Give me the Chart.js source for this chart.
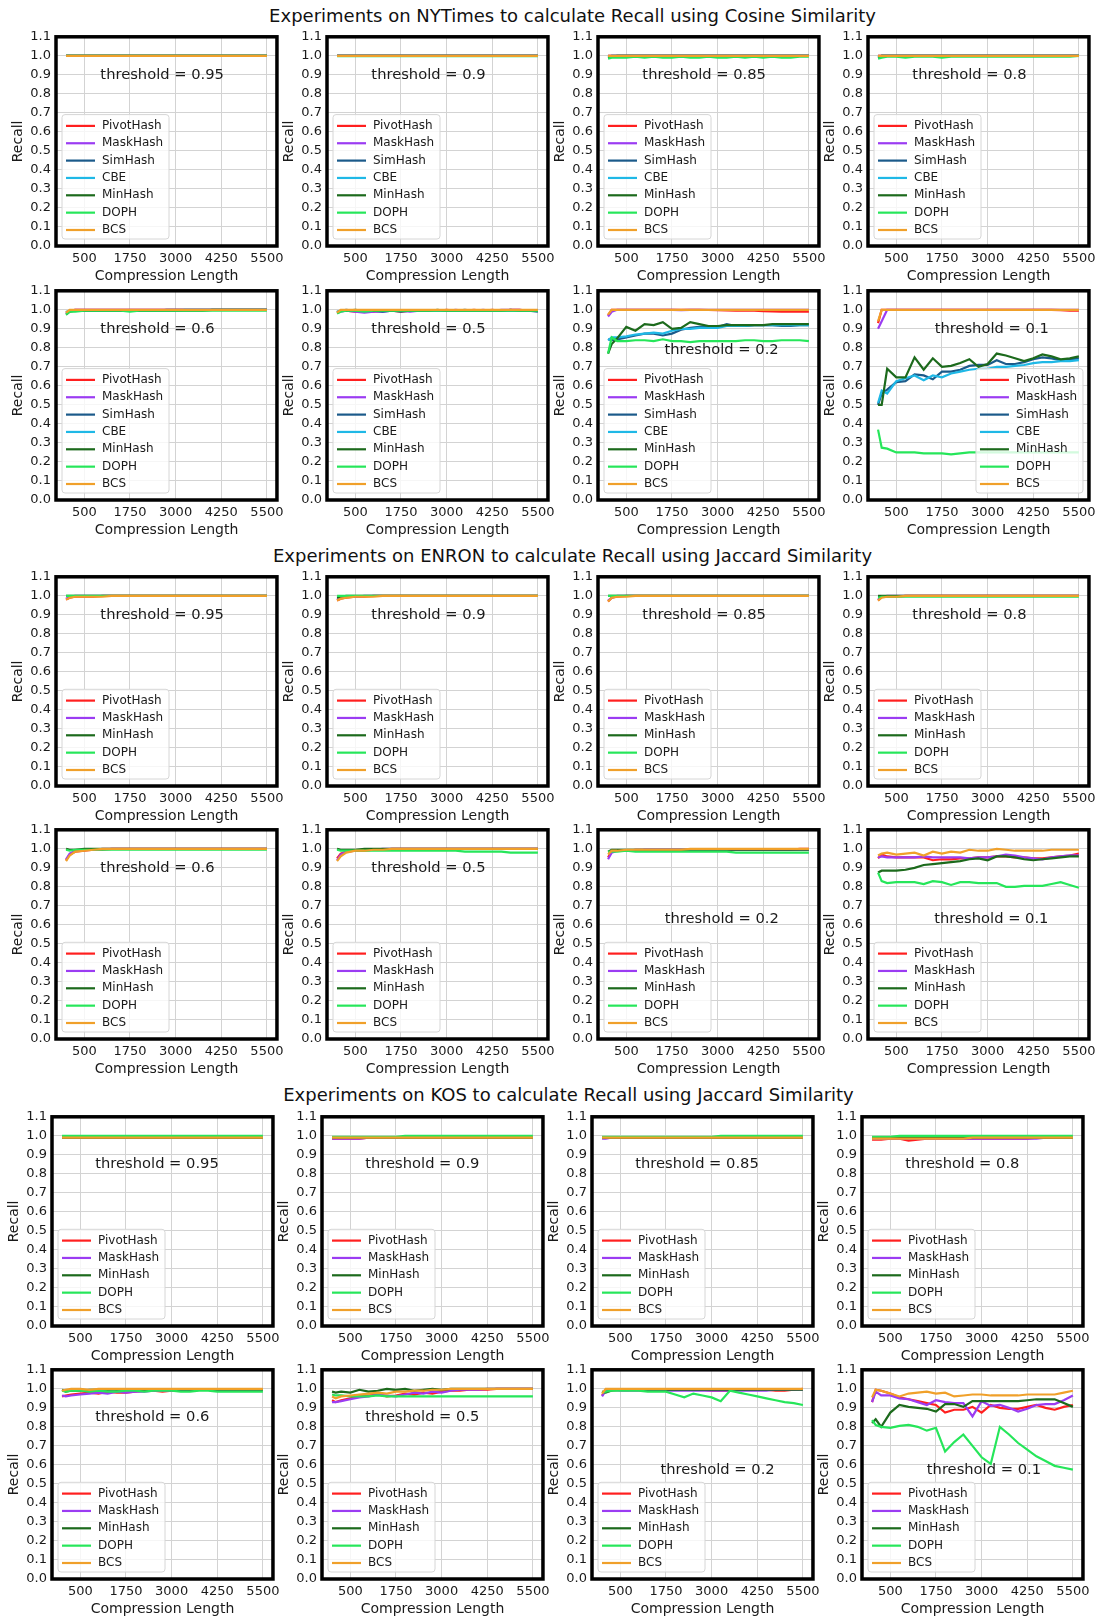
<!DOCTYPE html>
<html>
<head>
<meta charset="utf-8">
<script src="https://cdn.jsdelivr.net/npm/chart.js@4.4.0/dist/chart.umd.min.js"></script>
<style>
  html, body { margin: 0; padding: 0; background: #fff; }
  #fig { position: relative; width: 1099px; height: 1616px; overflow: hidden; font-family: 'DejaVu Sans', sans-serif; }
  #fig canvas { position: absolute; }
  .suptitle { position: absolute; font-size: 18px; color: #111; white-space: nowrap; transform: translate(-50%, -50%); }
</style>
</head>
<body>
<div id="fig"></div>
<script>
// compression lengths shared by every run
const compLengths = [0, 100, 250, 500, 750, 1000, 1250, 1500, 1750, 2000, 2250, 2500, 2750, 3000, 3250, 3500, 3750, 4000, 4250, 4500, 4750, 5000, 5250, 5500];
const xTicks = [500, 1750, 3000, 4250, 5500];
const yTicks = [0.0, 0.1, 0.2, 0.3, 0.4, 0.5, 0.6, 0.7, 0.8, 0.9, 1.0, 1.1];

const cosineMethods = ['PivotHash', 'MaskHash', 'SimHash', 'CBE', 'MinHash', 'DOPH', 'BCS'];
const jaccardMethods = ['PivotHash', 'MaskHash', 'MinHash', 'DOPH', 'BCS'];

// ---- NYTimes, cosine similarity (PivotHash, MaskHash, SimHash, CBE, MinHash, DOPH, BCS)
const nytCos95 = [
  [1,1,1,1,1,1, 1,1,1,1,1,1, 1,1,1,1,1,1, 1,1,1,1,1,1],
  [1,1,1,1,1,1, 1,1,1,1,1,1, 1,1,1,1,1,1, 1,1,1,1,1,1],
  [1,1,1,1,1,1, 1,1,1,1,1,1, 1,1,1,1,1,1, 1,1,1,1,1,1],
  [1,1,1,1,1,1, 1,1,1,1,1,1, 1,1,1,1,1,1, 1,1,1,1,1,1],
  [1,1,1,1,1,1, 1,1,1,1,1,1, 1,1,1,1,1,1, 1,1,1,1,1,1],
  [1,1,1,1,1,1, 1,1,1,1,1,1, 1,1,1,1,1,1, 1,1,1,1,1,1],
  [1,1,1,1,1,1, 1,1,1,1,1,1, 1,1,1,1,1,1, 1,1,1,1,1,1]
];
const nytCos90 = [
  [1,1,1,1,1,1, 1,1,1,1,1,1, 1,1,1,1,1,1, 1,1,1,1,1,1],
  [1,1,1,1,1,1, 1,1,1,1,1,1, 1,1,1,1,1,1, 1,1,1,1,1,1],
  [1,1,1,1,1,1, 1,1,1,1,1,1, 1,1,1,1,1,1, 1,1,1,1,1,1],
  [1,1,1,1,1,1, 1,1,1,1,1,1, 1,1,1,1,1,1, 1,1,1,1,1,1],
  [1,1,1,1,1,1, 1,1,1,1,1,1, 1,1,1,1,1,1, 1,1,1,1,1,1],
  [0.998,0.998,0.998,0.998,0.998,0.998, 0.998,0.998,0.998,0.998,0.998,0.998, 0.998,0.998,0.998,0.998,0.998,0.998, 0.998,0.998,0.998,0.998,0.998,0.998],
  [1,1,1,1,1,1, 1,1,1,1,1,1, 1,1,1,1,1,1, 1,1,1,1,1,1]
];
const nytCos85 = [
  [1,1,1,1,1,1, 1,1,1,1,1,1, 1,1,1,1,1,1, 1,1,1,1,1,1],
  [1,1,1,1,1,1, 1,1,1,1,1,1, 1,1,1,1,1,1, 1,1,1,1,1,1],
  [0.995,1,1,1,1,1, 1,1,1,1,1,1, 1,1,1,1,1,1, 1,1,1,1,1,1],
  [0.995,1,1,1,1,1, 1,1,1,1,1,1, 1,1,1,1,1,1, 1,1,1,1,1,1],
  [0.99,0.995,1,1,1,1, 1,1,1,1,1,1, 1,1,1,1,1,1, 1,1,1,1,1,1],
  [0.985,0.99,0.99,0.99,0.995,0.99, 0.995,0.99,0.99,0.995,0.99,0.99, 0.995,0.99,0.99,0.995,0.99,0.995, 0.99,0.995,0.99,0.99,0.995,0.995],
  [1,1,1,1,1,1, 1,1,1,1,1,1, 1,1,1,1,1,1, 1,1,1,1,1,1]
];
const nytCos80 = [
  [1,1,1,1,1,1, 1,1,1,1,1,1, 1,1,1,1,1,1, 1,1,1,1,1,1],
  [1,1,1,1,1,1, 1,1,1,1,1,1, 1,1,1,1,1,1, 1,1,1,1,1,1],
  [0.99,1,1,1,1,1, 1,1,1,1,1,1, 1,1,1,1,1,1, 1,1,1,1,1,1],
  [0.995,1,1,1,1,1, 1,1,1,1,1,1, 1,1,1,1,1,1, 1,1,1,1,1,1],
  [0.995,1,1,1,1,1, 1,1,1,1,1,1, 1,1,1,1,1,1, 1,1,1,1,1,1],
  [0.985,0.99,0.995,0.995,0.99,0.995, 0.995,0.995,0.99,0.995,0.995,0.995, 0.995,0.995,0.995,0.995,0.995,0.995, 0.995,0.995,0.995,0.995,0.995,1],
  [1,1,1,1,1,1, 1,1,1,1,1,1, 1,1,1,1,1,1, 1,1,1,1,1,1]
];
const nytCos60 = [
  [0.985,0.995,1,1,1,1, 1,1,1,1,1,1, 1,1,1,1,1,1, 1,1,1,1,1,1],
  [0.98,0.995,1,1,1,1, 1,1,1,1,1,1, 1,1,1,1,1,1, 1,1,1,1,1,1],
  [0.985,0.995,0.995,0.995,0.995,0.995, 0.995,0.995,0.995,0.995,0.995,0.995, 1,1,1,1,1,1, 1,1,1,1,1,1],
  [0.99,0.995,0.995,0.995,0.995,0.995, 0.995,0.995,0.995,0.995,0.995,0.995, 0.995,0.995,1,1,1,1, 1,1,1,1,1,1],
  [0.975,0.99,0.995,0.995,0.995,0.995, 0.995,0.995,0.995,0.995,0.995,0.995, 0.995,0.995,0.995,0.995,0.995,1, 1,1,1,1,1,1],
  [0.975,0.99,0.99,0.995,0.995,0.995, 0.995,0.995,0.99,0.995,0.995,0.995, 0.995,0.995,0.995,0.995,0.995,0.995, 0.995,0.995,0.995,0.995,0.995,0.995],
  [0.985,1,1,1,1,1, 1,1,1,1,1,1, 1,1,1,1,1,1, 1,1,1,1,1,1]
];
const nytCos50 = [
  [0.985,0.995,0.995,0.99,0.995,0.99, 0.995,0.995,0.99,0.995,0.995,0.995, 0.995,1,0.995,0.995,1,0.995, 1,0.995,1,1,0.995,0.995],
  [0.985,0.99,0.995,0.99,0.985,0.99, 0.99,0.995,0.995,0.99,0.995,0.995, 0.995,0.995,1,0.995,0.995,1, 0.995,1,1,1,0.995,0.995],
  [0.99,0.995,1,0.995,0.995,0.995, 0.99,0.995,0.99,0.995,0.995,0.995, 0.995,0.995,0.995,1,0.995,0.995, 0.995,0.995,0.995,0.995,0.995,0.99],
  [0.99,0.995,0.995,0.995,0.995,0.995, 0.995,0.995,0.995,0.995,0.995,0.995, 0.995,0.995,0.995,0.995,0.995,0.995, 0.995,0.995,0.995,0.995,0.995,0.995],
  [0.985,0.995,0.995,1,0.995,0.995, 0.995,0.995,0.995,0.995,0.995,0.995, 1,0.995,0.995,0.995,0.995,0.995, 0.995,0.995,1,0.995,0.995,0.995],
  [0.98,0.99,0.995,0.995,0.99,0.995, 0.995,0.995,0.995,0.995,0.995,0.995, 0.995,0.995,0.995,0.995,0.995,0.995, 0.995,0.995,0.995,0.995,0.995,0.995],
  [0.985,1,1,1,1,1, 1,1,1,1,1,1, 1,1,1,1,1,1, 1,1,1,1,1,1]
];
const nytCos20 = [
  [0.97,1,1,1,1,1, 1,1,1,1,1,1, 0.999,0.998,0.997,0.996,0.995,0.995, 0.993,0.992,0.99,0.99,0.99,0.99],
  [0.965,0.99,1,1,1,1, 1,1,1,0.998,1,1, 1,1,1,1,1,1, 1,1,1,1,1,1],
  [0.845,0.84,0.845,0.855,0.865,0.875, 0.875,0.865,0.875,0.895,0.905,0.91, 0.915,0.91,0.925,0.915,0.915,0.92, 0.92,0.92,0.915,0.915,0.92,0.92],
  [0.84,0.855,0.855,0.86,0.87,0.875, 0.88,0.875,0.89,0.9,0.9,0.905, 0.905,0.905,0.915,0.915,0.915,0.92, 0.92,0.92,0.92,0.92,0.92,0.92],
  [0.77,0.82,0.85,0.91,0.89,0.925, 0.92,0.935,0.9,0.905,0.935,0.925, 0.915,0.915,0.92,0.92,0.92,0.92, 0.92,0.925,0.925,0.925,0.925,0.925],
  [0.77,0.855,0.835,0.835,0.84,0.84, 0.835,0.845,0.835,0.835,0.83,0.835, 0.835,0.835,0.835,0.835,0.84,0.84, 0.835,0.835,0.84,0.84,0.84,0.835],
  [0.975,1,1,1,1,1, 1,1,1,1,1,1, 1,1,1,1,1,1, 1,1,1,1,1,1]
];
const nytCos10 = [
  [0.93,1,1,1,1,1, 1,1,1,1,1,1, 1,1,1,1,1,1, 1,1,1,0.998,0.996,0.995],
  [0.9,0.94,1,1,1,1, 1,1,1,1,1,1, 1,1,1,1,1,1, 1,1,1,1,1,1],
  [0.5,0.56,0.58,0.62,0.625,0.66, 0.655,0.635,0.675,0.675,0.685,0.705, 0.71,0.71,0.735,0.715,0.715,0.725, 0.74,0.75,0.745,0.735,0.74,0.745],
  [0.51,0.575,0.56,0.625,0.64,0.655, 0.63,0.655,0.645,0.665,0.675,0.685, 0.69,0.69,0.7,0.7,0.705,0.71, 0.72,0.725,0.725,0.73,0.73,0.735],
  [0.5,0.5,0.69,0.645,0.645,0.75, 0.685,0.745,0.7,0.705,0.72,0.74, 0.7,0.715,0.77,0.76,0.745,0.73, 0.745,0.765,0.755,0.74,0.745,0.755],
  [0.37,0.275,0.27,0.25,0.25,0.25, 0.245,0.245,0.245,0.24,0.245,0.25, 0.25,0.25,0.25,0.25,0.25,0.25, 0.25,0.25,0.25,0.25,0.25,0.25],
  [0.94,1,1,1,1,1, 1,1,1,1,1,1, 1,1,1,1,1,1, 1,1,1,1,1,1]
];

// ---- ENRON, Jaccard similarity (PivotHash, MaskHash, MinHash, DOPH, BCS)
const enrJac95 = [
  [0.98,0.99,0.995,0.995,0.995,1, 1,1,1,1,1,1, 1,1,1,1,1,1, 1,1,1,1,1,1],
  [0.985,0.995,1,1,1,1, 1,1,1,1,1,1, 1,1,1,1,1,1, 1,1,1,1,1,1],
  [1,1,1,1,1,1, 1,1,1,1,1,1, 1,1,1,1,1,1, 1,1,1,1,1,1],
  [1,1,1,1,1,1, 1,1,1,1,1,1, 1,1,1,1,1,1, 1,1,1,1,1,1],
  [0.98,0.99,0.995,0.995,0.995,0.995, 1,1,1,1,1,1, 1,1,1,1,1,1, 1,1,1,1,1,1]
];
const enrJac90 = [
  [0.975,0.985,0.99,0.995,0.995,1, 1,1,1,1,1,1, 1,1,1,1,1,1, 1,1,1,1,1,1],
  [0.98,0.99,0.995,0.995,1,1, 1,1,1,1,1,1, 1,1,1,1,1,1, 1,1,1,1,1,1],
  [0.99,0.995,1,1,1,1, 1,1,1,1,1,1, 1,1,1,1,1,1, 1,1,1,1,1,1],
  [1,1,1,1,1,1, 1,1,1,1,1,1, 1,1,1,1,1,1, 1,1,1,1,1,1],
  [0.975,0.985,0.99,0.995,0.995,0.995, 1,1,1,1,1,1, 1,1,1,1,1,1, 1,1,1,1,1,1]
];
const enrJac85 = [
  [0.97,0.99,0.995,1,1,1, 1,1,1,1,1,1, 1,1,1,1,1,1, 1,1,1,1,1,1],
  [0.975,0.99,1,1,1,1, 1,1,1,1,1,1, 1,1,1,1,1,1, 1,1,1,1,1,1],
  [1,1,1,1,1,1, 1,1,1,1,1,1, 1,1,1,1,1,1, 1,1,1,1,1,1],
  [1,1,1,1,1,1, 1,1,1,1,1,1, 1,1,1,1,1,1, 1,1,1,1,1,1],
  [0.97,0.99,0.995,0.995,1,1, 1,1,1,1,1,1, 1,1,1,1,1,1, 1,1,1,1,1,1]
];
const enrJac80 = [
  [0.975,0.995,0.995,0.995,1,1, 1,1,1,1,1,1, 1,1,1,1,1,1, 1,1,1,1,1,1],
  [0.98,0.995,1,1,1,1, 1,1,1,1,1,1, 1,1,1,1,1,1, 1,1,1,1,1,1],
  [1,1,1,1,1,1, 1,1,1,1,1,1, 1,1,1,1,1,1, 1,1,1,1,1,1],
  [0.99,0.995,0.995,0.995,0.995,0.995, 0.995,0.995,0.995,0.995,0.995,0.995, 0.995,0.995,0.995,0.995,0.995,0.995, 0.995,0.995,0.995,0.995,0.995,0.995],
  [0.975,0.99,0.995,0.995,1,1, 1,1,1,1,1,1, 1,1,1,1,1,1, 1,1,1,1,1,1]
];
const enrJac60 = [
  [0.94,0.97,0.985,0.99,0.995,0.995, 1,1,1,1,1,1, 1,1,1,1,1,1, 1,1,1,1,1,1],
  [0.945,0.975,0.99,0.995,0.995,1, 1,1,1,1,1,1, 1,1,1,1,1,1, 1,1,1,1,1,1],
  [1,0.995,0.995,1,1,1, 1,1,1,1,1,1, 1,1,1,1,1,1, 1,1,1,1,1,1],
  [0.995,0.99,0.995,0.995,0.995,0.995, 0.995,0.995,0.995,0.995,0.995,0.995, 0.995,0.995,0.995,0.995,0.995,0.995, 0.995,0.995,0.995,0.995,0.995,0.995],
  [0.935,0.965,0.985,0.99,0.995,1, 1,1,1,1,1,1, 1,1,1,1,1,1, 1,1,1,1,1,1]
];
const enrJac50 = [
  [0.95,0.975,0.985,0.99,0.99,0.995, 0.995,1,1,1,1,1, 1,1,1,1,1,1, 1,1,1,1,1,1],
  [0.94,0.97,0.985,0.99,0.995,0.995, 1,1,1,1,1,1, 1,1,1,1,1,1, 1,1,1,1,1,1],
  [1,0.995,0.995,0.995,1,1, 1,1,1,1,1,1, 1,1,1,1,1,1, 1,1,1,1,1,1],
  [0.995,0.99,0.99,0.99,0.99,0.99, 0.99,0.99,0.99,0.99,0.99,0.99, 0.99,0.99,0.99,0.985,0.985,0.985, 0.985,0.985,0.98,0.98,0.98,0.98],
  [0.935,0.96,0.98,0.99,0.99,0.995, 0.995,1,1,1,1,1, 1,1,1,1,1,1, 1,1,1,1,1,1]
];
const enrJac20 = [
  [0.955,0.985,0.99,0.99,0.995,0.995, 0.995,0.995,0.995,0.995,0.995,0.995, 0.995,0.995,0.995,0.995,0.995,0.995, 0.995,0.995,0.995,0.995,1,1],
  [0.945,0.98,0.99,0.99,0.99,0.995, 0.995,0.995,0.995,0.995,0.995,0.995, 0.995,0.995,0.995,0.995,0.995,0.995, 0.995,0.995,0.995,0.995,0.995,0.995],
  [0.985,0.995,0.995,0.995,0.995,0.995, 0.995,0.995,0.995,0.995,0.995,0.995, 0.995,0.995,0.995,0.995,0.995,0.995, 0.995,0.995,0.995,0.995,0.995,0.995],
  [0.985,0.985,0.985,0.99,0.985,0.985, 0.985,0.985,0.985,0.985,0.985,0.985, 0.985,0.985,0.985,0.98,0.98,0.98, 0.98,0.98,0.98,0.98,0.98,0.98],
  [0.97,0.99,0.99,0.995,0.995,0.995, 0.995,0.995,0.995,0.995,1,1, 1,1,1,1,1,1, 1,1,1,1,1,1]
];
const enrJac10 = [
  [0.95,0.97,0.96,0.955,0.955,0.955, 0.955,0.94,0.945,0.945,0.95,0.95, 0.955,0.955,0.96,0.96,0.955,0.955, 0.95,0.95,0.955,0.96,0.965,0.975],
  [0.955,0.96,0.955,0.955,0.955,0.955, 0.96,0.955,0.955,0.955,0.955,0.95, 0.955,0.955,0.96,0.97,0.965,0.955, 0.95,0.945,0.955,0.96,0.965,0.965],
  [0.875,0.885,0.885,0.885,0.89,0.9, 0.915,0.92,0.925,0.93,0.935,0.945, 0.95,0.94,0.96,0.96,0.955,0.945, 0.94,0.945,0.95,0.955,0.96,0.96],
  [0.875,0.83,0.82,0.825,0.825,0.825, 0.815,0.83,0.825,0.81,0.825,0.825, 0.82,0.82,0.82,0.8,0.8,0.805, 0.805,0.805,0.815,0.825,0.81,0.795],
  [0.965,0.975,0.98,0.97,0.975,0.98, 0.965,0.985,0.975,0.985,0.98,0.995, 0.99,0.99,1,0.995,0.99,0.99, 0.99,0.99,0.995,0.995,0.995,0.995]
];

// ---- KOS, Jaccard similarity (PivotHash, MaskHash, MinHash, DOPH, BCS)
const kosJac95 = [
  [0.99,0.99,0.99,0.99,0.99,0.99, 0.99,0.99,0.99,0.99,0.99,0.99, 0.99,0.99,0.99,0.99,0.99,0.99, 0.99,0.99,0.99,0.99,0.99,0.99],
  [0.99,0.99,0.99,0.99,0.99,0.99, 0.99,0.99,0.99,0.99,0.99,0.99, 0.99,0.99,0.99,0.99,0.99,0.99, 0.99,0.99,0.99,0.99,0.99,0.99],
  [0.99,0.99,0.99,0.99,0.99,0.99, 0.99,0.99,0.99,0.99,0.99,0.99, 0.99,0.99,0.99,0.99,0.99,0.99, 0.99,0.99,0.99,0.99,0.99,0.99],
  [1,1,1,1,1,1, 1,1,1,1,1,1, 1,1,1,1,1,1, 1,1,1,1,1,1],
  [0.99,0.99,0.99,0.99,0.99,0.99, 0.99,0.99,0.99,0.99,0.99,0.99, 0.99,0.99,0.99,0.99,0.99,0.99, 0.99,0.99,0.99,0.99,0.99,0.99]
];
const kosJac90 = [
  [0.985,0.985,0.985,0.985,0.985,0.99, 0.99,0.99,0.99,0.99,0.99,0.99, 0.99,0.99,0.99,0.99,0.99,0.99, 0.99,0.99,0.99,0.99,0.99,0.99],
  [0.985,0.985,0.985,0.985,0.985,0.99, 0.99,0.99,0.99,0.99,0.99,0.99, 0.99,0.99,0.99,0.99,0.99,0.99, 0.99,0.99,0.99,0.99,0.99,0.99],
  [0.99,0.99,0.99,0.99,0.99,0.99, 0.99,0.99,0.99,0.99,0.99,0.99, 0.99,0.99,0.99,0.99,0.99,0.99, 0.99,0.99,0.99,0.99,0.99,0.99],
  [0.995,0.995,0.995,0.995,0.995,0.995, 0.995,0.995,0.995,1,1,1, 1,1,1,1,1,1, 1,1,1,1,1,1],
  [0.99,0.99,0.99,0.99,0.99,0.99, 0.99,0.99,0.99,0.99,0.99,0.99, 0.99,0.99,0.99,0.99,0.99,0.99, 0.99,0.99,0.99,0.99,0.99,0.99]
];
const kosJac85 = [
  [0.99,0.99,0.99,0.99,0.99,0.99, 0.99,0.99,0.99,0.99,0.99,0.99, 0.99,0.99,0.99,0.99,0.99,0.99, 0.99,0.99,0.99,0.99,0.99,0.99],
  [0.985,0.985,0.99,0.99,0.99,0.99, 0.99,0.99,0.99,0.99,0.99,0.99, 0.99,0.99,0.99,0.99,0.99,0.99, 0.99,0.99,0.99,0.99,0.99,0.99],
  [0.99,0.99,0.99,0.99,0.99,0.99, 0.99,0.99,0.99,0.99,0.99,0.99, 0.99,0.99,0.99,0.99,0.99,0.99, 0.99,0.99,0.99,0.99,0.99,0.99],
  [0.995,0.995,0.995,0.995,0.995,0.995, 0.995,0.995,0.995,0.995,0.995,0.995, 0.995,0.995,1,1,1,1, 1,1,1,1,1,1],
  [0.99,0.99,0.99,0.99,0.99,0.99, 0.99,0.99,0.99,0.99,0.99,0.99, 0.99,0.99,0.99,0.99,0.99,0.99, 0.99,0.99,0.99,0.99,0.99,0.99]
];
const kosJac80 = [
  [0.98,0.98,0.98,0.985,0.985,0.975, 0.98,0.985,0.985,0.985,0.985,0.985, 0.985,0.985,0.985,0.985,0.985,0.985, 0.985,0.99,0.99,0.99,0.99,0.99],
  [0.985,0.985,0.985,0.985,0.985,0.985, 0.985,0.985,0.985,0.985,0.985,0.985, 0.985,0.985,0.985,0.985,0.985,0.985, 0.985,0.985,0.99,0.99,0.99,0.99],
  [0.99,0.99,0.99,0.99,0.99,0.99, 0.99,0.99,0.99,0.99,0.99,0.99, 0.99,0.99,0.99,0.99,0.99,0.99, 0.99,0.99,0.99,0.99,0.99,0.99],
  [0.995,0.995,0.995,0.995,1,1, 1,1,1,1,1,1, 1,1,1,1,1,1, 1,1,1,1,1,1],
  [0.985,0.985,0.985,0.985,0.985,0.985, 0.985,0.985,0.985,0.985,0.985,0.985, 0.99,0.99,0.99,0.99,0.99,0.99, 0.99,0.99,0.99,0.99,0.99,0.99]
];
const kosJac60 = [
  [0.96,0.965,0.97,0.975,0.98,0.975, 0.985,0.98,0.98,0.985,0.99,0.99, 0.985,0.99,0.99,0.99,0.995,0.995, 0.995,0.995,0.995,0.995,0.995,0.995],
  [0.965,0.96,0.965,0.97,0.975,0.98, 0.975,0.985,0.98,0.985,0.985,0.99, 0.99,0.99,0.99,0.995,0.995,0.995, 0.995,0.995,0.995,0.995,0.995,0.995],
  [0.995,0.985,0.99,0.99,0.995,0.995, 0.995,0.995,0.995,0.995,0.995,0.995, 0.995,0.995,0.995,0.995,0.995,0.995, 0.995,0.995,0.995,0.995,0.995,0.995],
  [0.99,0.985,0.99,0.99,0.985,0.99, 0.985,0.985,0.99,0.99,0.985,0.99, 0.99,0.99,0.985,0.985,0.99,0.99, 0.985,0.985,0.985,0.985,0.985,0.985],
  [0.99,0.995,1,1,0.995,1, 1,1,1,1,1,1, 1,1,1,1,1,1, 1,1,1,1,1,1]
];
const kosJac50 = [
  [0.94,0.93,0.94,0.95,0.96,0.965, 0.97,0.96,0.965,0.975,0.97,0.98, 0.975,0.985,0.99,0.99,0.995,0.995, 0.995,1,1,1,1,1],
  [0.93,0.93,0.935,0.945,0.955,0.96, 0.97,0.965,0.96,0.97,0.98,0.975, 0.985,0.98,0.99,0.995,0.995,0.995, 1,1,1,1,1,1],
  [0.985,0.98,0.985,0.98,0.995,0.985, 0.99,1,0.995,1,0.99,0.995, 1,0.995,1,1,1,1, 1,1,1,1,1,1],
  [0.97,0.965,0.965,0.96,0.96,0.96, 0.965,0.96,0.96,0.96,0.96,0.96, 0.96,0.96,0.96,0.96,0.96,0.96, 0.96,0.96,0.96,0.96,0.96,0.96],
  [0.96,0.95,0.96,0.965,0.97,0.975, 0.98,0.975,0.985,0.985,0.99,0.99, 0.995,0.995,1,1,1,1, 1,1,1,1,1,1]
];
const kosJac20 = [
  [0.965,0.995,0.995,0.995,0.995,0.995, 0.995,0.995,0.995,0.995,0.995,0.995, 0.995,0.99,0.99,0.99,0.995,0.995, 0.995,0.995,0.99,0.99,0.995,1],
  [0.96,0.99,0.995,0.99,0.99,0.99, 0.99,0.99,0.99,0.99,0.99,0.99, 0.99,0.99,0.99,0.99,0.99,0.99, 0.99,0.99,0.995,0.995,0.995,0.995],
  [0.985,0.98,0.99,0.995,0.995,0.995, 0.995,0.995,0.995,0.995,0.995,0.995, 0.995,0.995,0.995,0.995,0.995,0.995, 0.995,0.995,0.995,0.995,0.995,0.995],
  [0.98,0.985,0.99,0.99,0.99,0.99, 0.985,0.985,0.985,0.97,0.955,0.975, 0.965,0.955,0.935,0.99,0.98,0.97, 0.96,0.95,0.94,0.93,0.925,0.915],
  [0.975,1,1,1,1,1, 1,1,1,1,1,1, 1,1,1,1,1,1, 1,1,1,1,1,1]
];
const kosJac10 = [
  [0.93,0.995,0.99,0.975,0.955,0.945, 0.935,0.925,0.915,0.875,0.89,0.89, 0.905,0.875,0.915,0.9,0.895,0.895, 0.905,0.915,0.9,0.89,0.905,0.915],
  [0.93,0.985,0.965,0.965,0.95,0.945, 0.93,0.915,0.94,0.93,0.925,0.925, 0.855,0.935,0.91,0.915,0.9,0.88, 0.895,0.915,0.92,0.92,0.94,0.965],
  [0.82,0.84,0.8,0.875,0.915,0.905, 0.9,0.895,0.88,0.92,0.92,0.905, 0.935,0.935,0.935,0.935,0.935,0.935, 0.94,0.945,0.945,0.945,0.925,0.905],
  [0.835,0.81,0.8,0.795,0.805,0.81, 0.8,0.78,0.795,0.67,0.72,0.76, 0.7,0.64,0.605,0.8,0.76,0.715, 0.68,0.645,0.62,0.595,0.585,0.575],
  [0.955,0.995,0.99,0.975,0.96,0.975, 0.98,0.985,0.975,0.98,0.96,0.965, 0.97,0.97,0.965,0.965,0.965,0.965, 0.97,0.97,0.97,0.97,0.98,0.99]
];

// line colours per method
const methodColors = {
  PivotHash: '#ff1f1f',
  MaskHash: '#9b3cf2',
  SimHash: '#1b5a8a',
  CBE: '#1fb8e6',
  MinHash: '#1c6a1c',
  DOPH: '#26e65a',
  BCS: '#f0a02a'
};

// figure geometry (plot frames in page pixels)
const FRAME_W = 221, FRAME_H = 210;
const PAD_L = 58, PAD_T = 12, PAD_R = 12, PAD_B = 46;
const sections = [
  { title: 'Experiments on NYTimes to calculate Recall using Cosine Similarity', titleX: 572.5, titleY: 15,
    colLeft: [56, 327, 597.5, 868], rowTop: [36, 289.5], methods: cosineMethods },
  { title: 'Experiments on ENRON to calculate Recall using Jaccard Similarity', titleX: 572.5, titleY: 554.5,
    colLeft: [56, 327, 597.5, 868], rowTop: [576, 829], methods: jaccardMethods },
  { title: 'Experiments on KOS to calculate Recall using Jaccard Similarity', titleX: 568.5, titleY: 1093.5,
    colLeft: [52, 322, 592, 862], rowTop: [1116, 1369], methods: jaccardMethods }
];

const panels = [
  { sec: 0, row: 0, col: 0, thr: '0.95', data: nytCos95, note: [940, 0.9], legend: 'left' },
  { sec: 0, row: 0, col: 1, thr: '0.9',  data: nytCos90, note: [940, 0.9], legend: 'left' },
  { sec: 0, row: 0, col: 2, thr: '0.85', data: nytCos85, note: [940, 0.9], legend: 'left' },
  { sec: 0, row: 0, col: 3, thr: '0.8',  data: nytCos80, note: [940, 0.9], legend: 'left' },
  { sec: 0, row: 1, col: 0, thr: '0.6',  data: nytCos60, note: [940, 0.9], legend: 'left' },
  { sec: 0, row: 1, col: 1, thr: '0.5',  data: nytCos50, note: [940, 0.9], legend: 'left' },
  { sec: 0, row: 1, col: 2, thr: '0.2',  data: nytCos20, note: [1545, 0.79], legend: 'left' },
  { sec: 0, row: 1, col: 3, thr: '0.1',  data: nytCos10, note: [1550, 0.9], legend: 'right' },
  { sec: 1, row: 0, col: 0, thr: '0.95', data: enrJac95, note: [940, 0.9], legend: 'left' },
  { sec: 1, row: 0, col: 1, thr: '0.9',  data: enrJac90, note: [940, 0.9], legend: 'left' },
  { sec: 1, row: 0, col: 2, thr: '0.85', data: enrJac85, note: [940, 0.9], legend: 'left' },
  { sec: 1, row: 0, col: 3, thr: '0.8',  data: enrJac80, note: [940, 0.9], legend: 'left' },
  { sec: 1, row: 1, col: 0, thr: '0.6',  data: enrJac60, note: [940, 0.9], legend: 'left' },
  { sec: 1, row: 1, col: 1, thr: '0.5',  data: enrJac50, note: [940, 0.9], legend: 'left' },
  { sec: 1, row: 1, col: 2, thr: '0.2',  data: enrJac20, note: [1550, 0.63], legend: 'left' },
  { sec: 1, row: 1, col: 3, thr: '0.1',  data: enrJac10, note: [1540, 0.63], legend: 'left' },
  { sec: 2, row: 0, col: 0, thr: '0.95', data: kosJac95, note: [910, 0.85], legend: 'left' },
  { sec: 2, row: 0, col: 1, thr: '0.9',  data: kosJac90, note: [910, 0.85], legend: 'left' },
  { sec: 2, row: 0, col: 2, thr: '0.85', data: kosJac85, note: [910, 0.85], legend: 'left' },
  { sec: 2, row: 0, col: 3, thr: '0.8',  data: kosJac80, note: [910, 0.85], legend: 'left' },
  { sec: 2, row: 1, col: 0, thr: '0.6',  data: kosJac60, note: [910, 0.85], legend: 'left' },
  { sec: 2, row: 1, col: 1, thr: '0.5',  data: kosJac50, note: [910, 0.85], legend: 'left' },
  { sec: 2, row: 1, col: 2, thr: '0.2',  data: kosJac20, note: [1600, 0.57], legend: 'left' },
  { sec: 2, row: 1, col: 3, thr: '0.1',  data: kosJac10, note: [1500, 0.57], legend: 'left' }
];

const FONT = "'DejaVu Sans', sans-serif";
const textColor = '#1a1a1a';
const gridColor = '#d3d3d3';

// threshold text, legend box and the heavy black frame
const panelDecor = {
  id: 'panelDecor',
  afterDatasetsDraw(chart, args, opts) {
    const ctx = chart.ctx;
    const a = chart.chartArea;
    ctx.save();

    ctx.font = '14.7px ' + FONT;
    ctx.fillStyle = textColor;
    ctx.textAlign = 'left';
    ctx.textBaseline = 'middle';
    ctx.fillText('threshold = ' + opts.thr,
      chart.scales.x.getPixelForValue(opts.note[0]),
      chart.scales.y.getPixelForValue(opts.note[1]));

    const names = chart.data.datasets.map(d => d.label);
    const rowH = 17.35, w = 107;
    const h = 11.3 + (names.length - 1) * rowH + 9;
    const bx = opts.legend === 'left' ? a.left + 6 : a.right - 6 - w;
    const by = a.bottom - 7 - h;
    ctx.beginPath();
    ctx.roundRect(bx, by, w, h, 3);
    ctx.fillStyle = 'rgba(255,255,255,0.8)';
    ctx.fill();
    ctx.lineWidth = 1;
    ctx.strokeStyle = '#d6d6d6';
    ctx.stroke();
    ctx.font = '12px ' + FONT;
    names.forEach((name, i) => {
      const cy = by + 11.3 + i * rowH;
      ctx.beginPath();
      ctx.moveTo(bx + 4, cy);
      ctx.lineTo(bx + 33, cy);
      ctx.strokeStyle = methodColors[name];
      ctx.lineWidth = 2.2;
      ctx.stroke();
      ctx.fillStyle = textColor;
      ctx.fillText(name, bx + 40, cy);
    });

    ctx.lineWidth = 3.5;
    ctx.strokeStyle = '#000';
    ctx.strokeRect(a.left, a.top, a.right - a.left, a.bottom - a.top);
    ctx.restore();
  }
};

const fig = document.getElementById('fig');

sections.forEach(s => {
  const t = document.createElement('div');
  t.className = 'suptitle';
  t.textContent = s.title;
  t.style.left = s.titleX + 'px';
  t.style.top = s.titleY + 'px';
  fig.appendChild(t);
});

panels.forEach(p => {
  const s = sections[p.sec];
  const canvas = document.createElement('canvas');
  canvas.width = PAD_L + FRAME_W + PAD_R;
  canvas.height = PAD_T + FRAME_H + PAD_B;
  canvas.style.left = (s.colLeft[p.col] - PAD_L) + 'px';
  canvas.style.top = (s.rowTop[p.row] - PAD_T) + 'px';
  fig.appendChild(canvas);

  const n = s.methods.length;
  const datasets = s.methods.map((name, i) => ({
    label: name,
    data: compLengths.map((x, k) => ({ x: x, y: p.data[i][k] })),
    borderColor: methodColors[name],
    borderWidth: 2.2,
    pointRadius: 0,
    fill: false,
    tension: 0,
    order: n - i   // later methods drawn on top
  }));

  new Chart(canvas, {
    type: 'line',
    data: { datasets: datasets },
    options: {
      responsive: false,
      animation: false,
      devicePixelRatio: 1,
      layout: { padding: { top: PAD_T, right: PAD_R, left: 0, bottom: 0 } },
      plugins: {
        legend: { display: false },
        tooltip: { enabled: false },
        panelDecor: { thr: p.thr, note: p.note, legend: p.legend }
      },
      scales: {
        x: {
          type: 'linear',
          min: -275,
          max: 5775,
          afterBuildTicks: sc => { sc.ticks = xTicks.map(v => ({ value: v })); },
          afterFit: sc => { sc.height = PAD_B; },
          grid: { color: gridColor, lineWidth: 1, drawTicks: false },
          border: { display: false },
          ticks: { color: textColor, font: { family: FONT, size: 13 }, padding: 5, autoSkip: false, maxRotation: 0,
                   callback: v => String(v) },
          title: { display: true, text: 'Compression Length', color: textColor,
                   font: { family: FONT, size: 14 }, padding: { top: 0, bottom: 7.4 } }
        },
        y: {
          min: 0,
          max: 1.1,
          afterBuildTicks: sc => { sc.ticks = yTicks.map(v => ({ value: v })); },
          afterFit: sc => { sc.width = PAD_L; },
          grid: { color: gridColor, lineWidth: 1, drawTicks: false },
          border: { display: false },
          ticks: { color: textColor, font: { family: FONT, size: 13 }, padding: 5, autoSkip: false,
                   callback: v => v.toFixed(1) },
          title: { display: true, text: 'Recall', color: textColor,
                   font: { family: FONT, size: 14 }, padding: { top: 12, bottom: 0 } }
        }
      }
    },
    plugins: [panelDecor]
  });
});
</script>
</body>
</html>
